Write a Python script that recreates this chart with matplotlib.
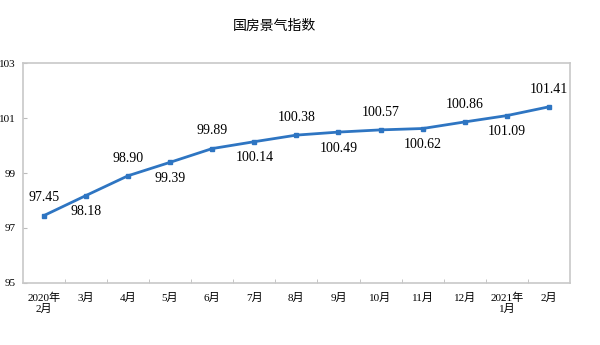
import matplotlib.pyplot as plt

plt.rcParams['font.family'] = ['Liberation Serif', 'Noto Sans CJK SC']

months = ['2020年\n2月', '3月', '4月', '5月', '6月', '7月', '8月', '9月',
          '10月', '11月', '12月', '2021年\n1月', '2月']
values = [97.45, 98.18, 98.90, 99.39, 99.89, 100.14, 100.38, 100.49,
          100.57, 100.62, 100.86, 101.09, 101.41]
yticks = [95, 97, 99, 101, 103]

fig = plt.figure(figsize=(6, 3.45), dpi=100)
ax = fig.add_axes([0.038, 0.18, 0.912, 0.637])

x = list(range(len(values)))
ax.plot(x, values, color='#2e75c2', linewidth=2, marker='s', markersize=3.5)

for i, v in enumerate(values):
    if i % 2 == 0:
        ax.annotate(f'{v:.2f}', (i, v), xytext=(0, 8), textcoords='offset points',
                    ha='center', va='bottom', fontsize=10)
    else:
        ax.annotate(f'{v:.2f}', (i, v), xytext=(0, -7), textcoords='offset points',
                    ha='center', va='top', fontsize=10)

ax.set_xlim(-0.5, 12.5)
ax.set_ylim(95, 103)
ax.set_yticks(yticks)
ax.set_yticklabels([str(t) for t in yticks], fontsize=8)
ax.set_xticks(x)
ax.set_xticklabels(months, fontsize=8, linespacing=1.15)
ax.set_xticks([i + 0.5 for i in range(len(values) - 1)], minor=True)
ax.tick_params(axis='x', which='major', length=0, pad=7)
ax.tick_params(axis='x', which='minor', direction='in', length=3, color='#bbbbbb')
ax.tick_params(axis='y', direction='in', length=3, color='#bbbbbb', pad=5)
for s in ax.spines.values():
    s.set_color('#c8c8c8')
    s.set_linewidth(1.2)

fig.suptitle('国房景气指数', x=0.457, y=0.945, fontsize=10, fontweight='medium',
             family=['Noto Sans CJK SC'])
fig.savefig('out.png')
